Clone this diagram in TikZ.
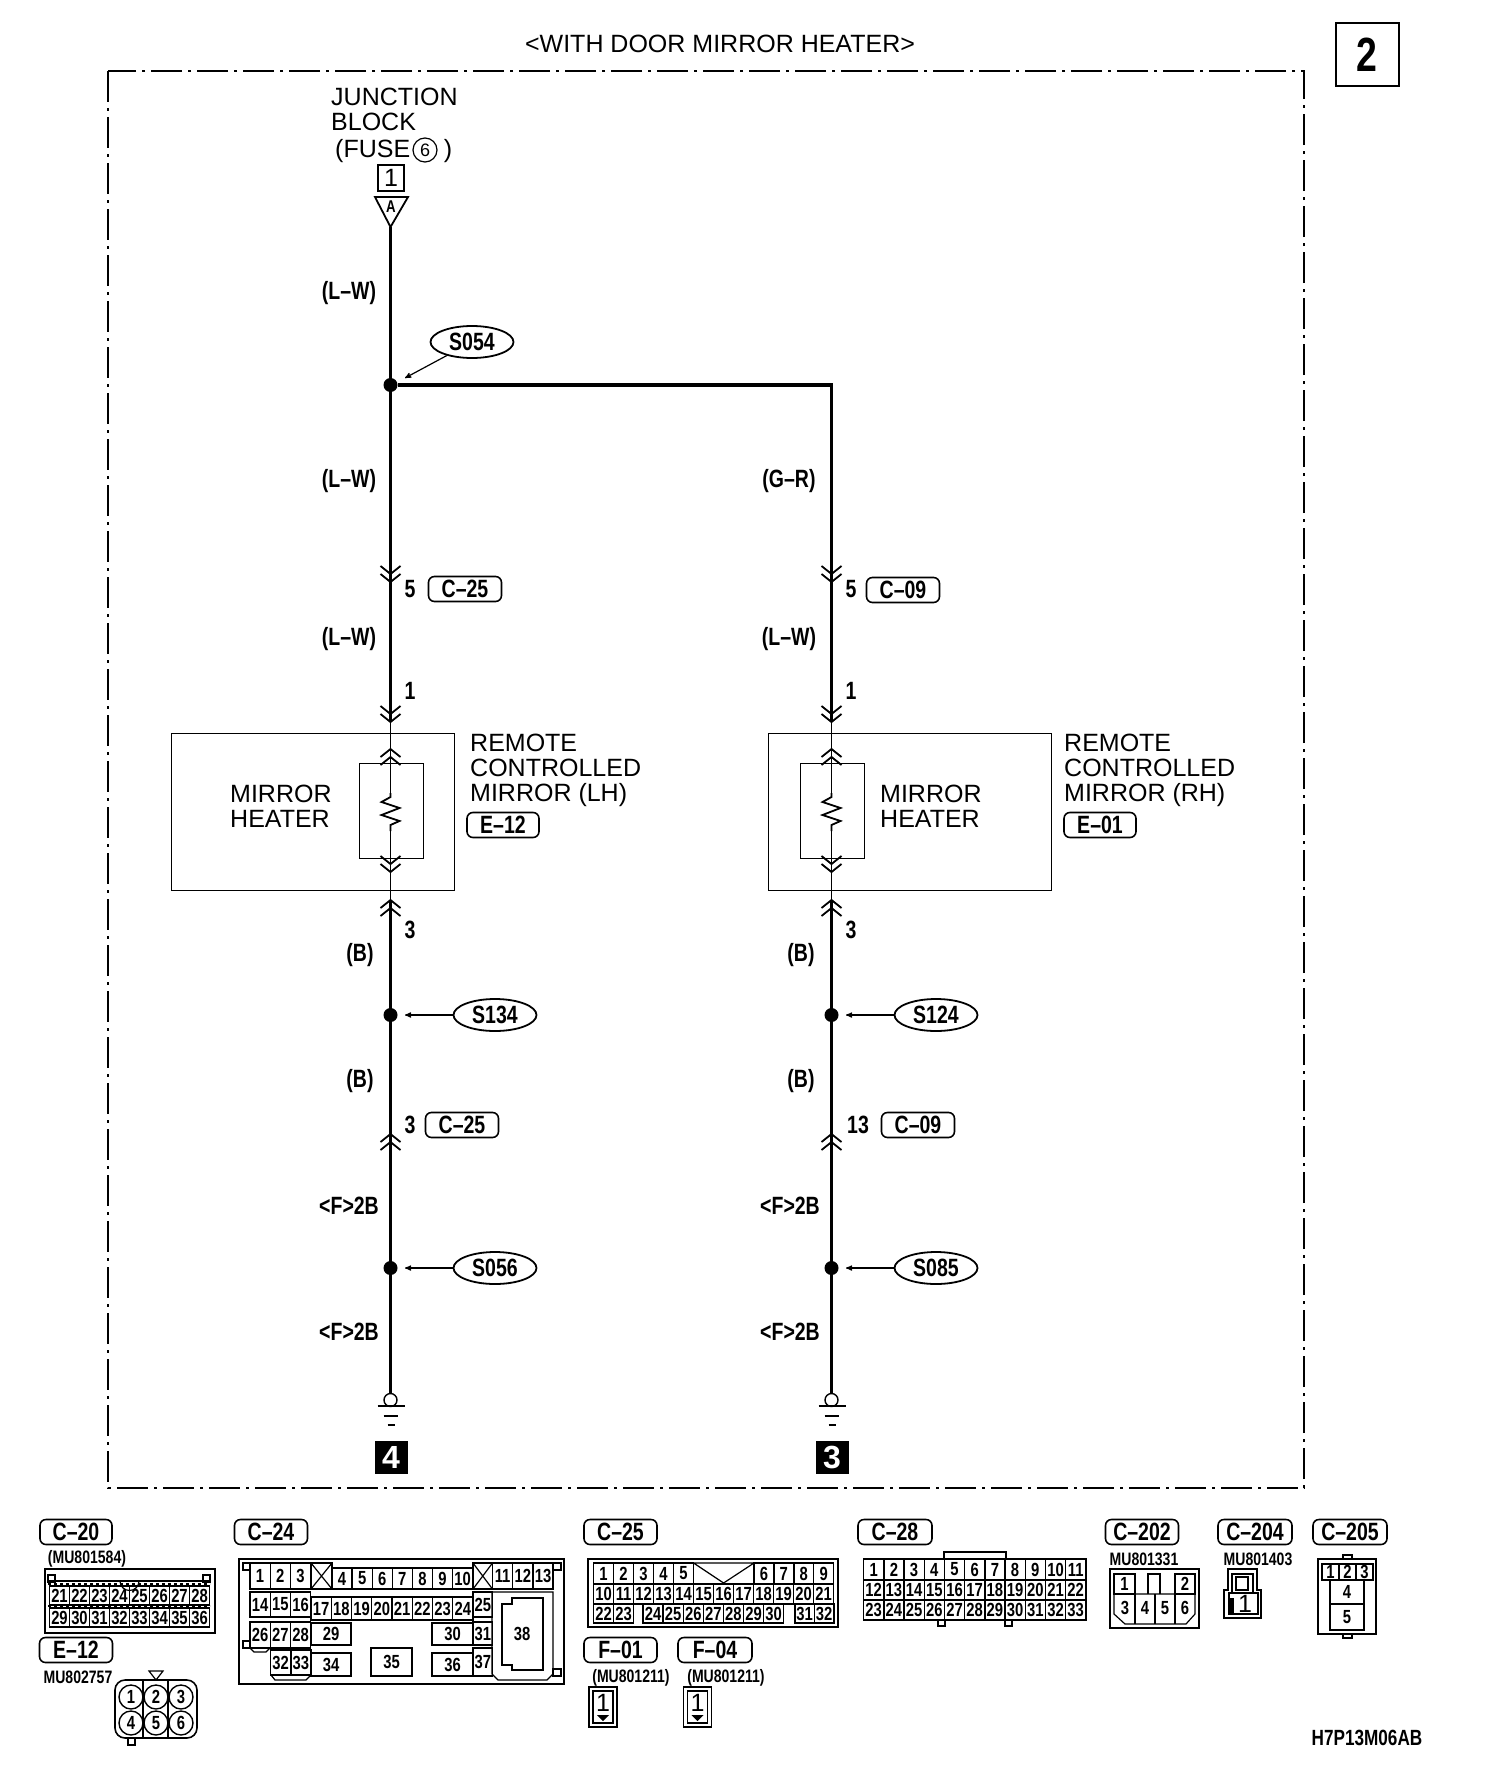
\documentclass[tikz,border=0pt]{standalone}
\usepackage{fontspec}
\setmainfont{Liberation Sans}
\newfontfamily\tagfamily[FakeStretch=0.78,Ligatures=TeX]{Liberation Sans Bold}
\usetikzlibrary{%
  shapes.geometric,% wg. ellipse
  arrows%
}
\newcommand{\bodysize}{\fontsize{25}{25}\selectfont}
\newcommand{\tagsize}{\tagfamily\fontsize{25}{25}\selectfont}
\newcommand{\pinsize}{\tagfamily\fontsize{19}{19}\selectfont}
\newcommand{\partsize}{\tagfamily\fontsize{18}{18}\selectfont}
% row of connector cells: prefix, x, y, width, height, numbers
\newcommand{\pinrow}[6]{%
  \foreach \n [count=\i from 0] in {#6}
    \node [pincell, minimum width=#4pt, minimum height=#5pt]
      (#1\n) at ({#2+\i*#4},#3) {\n};%
}
\tikzset{
  wire/.style={line width=3.4pt},
  feed/.style={line width=1.8pt},
  thinline/.style={line width=1.2pt},
  shell/.style={line width=1.6pt},
  framedash/.style={line width=1.2pt, dash pattern=on 31pt off 6pt on 3pt off 6pt},
  junc/.style={circle, fill=black, inner sep=0pt, minimum size=14pt},
  openjunc/.style={circle, draw, line width=1.4pt, fill=white, inner sep=0pt, minimum size=13pt},
  lab/.style={font=\bodysize, inner sep=0pt, align=left},
  wirelab/.style={font=\tagsize, inner sep=0pt},
  splice/.style={ellipse, draw, line width=1.8pt, font=\tagsize, inner sep=0pt,
    minimum width=83pt, minimum height=32pt},
  pill/.style={rectangle, rounded corners=6pt, draw, line width=1.6pt, font=\tagsize,
    inner sep=0pt, minimum width=#1pt, minimum height=25pt},
  pill/.default=72,
  partno/.style={font=\partsize, inner sep=0pt},
  pincell/.style={rectangle, draw, line width=1.4pt, anchor=north west, outer sep=0pt,
    inner sep=0pt, font=\pinsize},
  pinlab/.style={font=\pinsize, inner sep=0pt},
  chevrons/.pic={
    \draw [feed] (-10,-8) -- (0,0) -- (10,-8);
    \draw [feed] (-10,-16) -- (0,-8) -- (10,-16);
  },
  heater/.pic={
    \draw [feed] (0,-19) -- (0,-15) -- (-9,-10) -- (9,-4) -- (-9,3) -- (9,9) -- (0,13) -- (0,19);
  }
}
\begin{document}
\begin{tikzpicture}[x=1pt,y=-1pt,line join=miter]
  \useasboundingbox (0,0) rectangle (1504,1774);
  \draw [framedash] (108,71) rectangle (1304,1488);
  \node [lab] (title) at (720,44) {<WITH DOOR MIRROR HEATER>};
  \node [rectangle, draw, line width=2pt, minimum width=63pt, minimum height=63pt,
    inner sep=0pt, font=\tagfamily\fontsize{48}{48}\selectfont] (pagebox) at (1367,55) {2};

  % source
  \node [lab, anchor=west] (jblock) at (331,109) {JUNCTION\\BLOCK};
  \node [lab, anchor=west] (fuse) at (335,151) {(FUSE};
  \node [circle, draw, line width=1.2pt, inner sep=0pt, minimum size=24pt,
    font=\fontsize{18}{18}\selectfont] (fusenum) at (425,150) {6};
  \node [lab] (fuseend) at (448,151) {)};
  \node [rectangle, draw, line width=1.8pt, minimum width=26pt, minimum height=26pt,
    inner sep=0pt, font=\bodysize] (fusebox) at (391,178) {1};
  \coordinate (topA) at (390.5,227);
  \draw [line width=1.8pt] (375,197) -- (408,197) -- (topA) -- cycle;
  \node [font=\tagfamily\fontsize{17}{17}\selectfont, inner sep=0pt] (connA) at (391,207) {A};

  % splices
  \node [junc] (jS054) at (390.5,385) {};
  \coordinate (jtop) at (831.5,385);
  \node [splice] (S054) at (472,342) {S054};
  \node [junc] (jS134) at (390.5,1015) {};
  \node [splice] (S134) at (495,1015) {S134};
  \node [junc] (jS056) at (390.5,1268) {};
  \node [splice] (S056) at (495,1268) {S056};
  \node [junc] (jS124) at (831.5,1015) {};
  \node [splice] (S124) at (936,1015) {S124};
  \node [junc] (jS085) at (831.5,1268) {};
  \node [splice] (S085) at (936,1268) {S085};
  \coordinate (aS054) at (405,378);
  \coordinate (aS134) at (405,1015);
  \coordinate (aS056) at (405,1268);
  \coordinate (aS124) at (846,1015);
  \coordinate (aS085) at (846,1268);
  \draw [thinline,->,>=stealth'] (S054) -- (aS054);
  \foreach \s in {S134,S056,S124,S085}
    \draw [thinline,->,>=stealth'] (\s) -- (a\s);

  % mirrors
  \node [rectangle, draw, thinline, anchor=north west, minimum width=283pt, minimum height=157pt,
    inner sep=0pt] (mirrorL) at (171,733) {};
  \node [rectangle, draw, thinline, anchor=north west, minimum width=64pt, minimum height=95pt,
    inner sep=0pt] (elemL) at (359,763) {};
  \node [rectangle, draw, thinline, anchor=north west, minimum width=283pt, minimum height=157pt,
    inner sep=0pt] (mirrorR) at (768,733) {};
  \node [rectangle, draw, thinline, anchor=north west, minimum width=64pt, minimum height=95pt,
    inner sep=0pt] (elemR) at (800,763) {};
  \node [lab, anchor=west] (heatL) at (230,806) {MIRROR\\HEATER};
  \node [lab, anchor=west] (heatR) at (880,806) {MIRROR\\HEATER};
  \node [lab, anchor=west] (nameL) at (470,770) {REMOTE\\CONTROLLED\\MIRROR (LH)};
  \node [lab, anchor=west] (nameR) at (1064,770) {REMOTE\\CONTROLLED\\MIRROR (RH)};
  \node [pill] (tagE12) at (503,825) {E--12};
  \node [pill] (tagE01) at (1100,825) {E--01};

  % wires
  \foreach \x/\side in {390.5/L,831.5/R} {
    \coordinate (in\side) at (\x,722);
    \coordinate (out\side) at (\x,900);
    \coordinate (rtop\side) at (\x,793);
    \coordinate (rbot\side) at (\x,831);
    \coordinate (gnd\side) at (\x,1393);
    \draw [feed] (in\side) -- (rtop\side);
    \draw [feed] (rbot\side) -- (out\side);
    \draw [wire] (out\side) -- (gnd\side);
    \path (\x,812) pic {heater};
    \path (\x,582) pic {chevrons};
    \path (in\side) pic {chevrons};
    \path (\x,749) pic [yscale=-1] {chevrons};
    \path (\x,872) pic {chevrons};
    \path (out\side) pic [yscale=-1] {chevrons};
    \path (\x,1134) pic [yscale=-1] {chevrons};
    \node [openjunc] (open\side) at (\x,1400) {};
    \coordinate (eL\side) at (\x-13,1406);
    \coordinate (eR\side) at (\x+14,1406);
    \draw [thinline] (eL\side) -- (eR\side);
    \draw [line width=1.6pt] (\x-7,1416) -- (\x+7,1416);
    \draw [line width=1.6pt] (\x-3,1425) -- (\x+4,1425);
  }
  \draw [wire] (topA) -- (inL);
  \draw [wire] (jS054) -- (jtop) -- (inR);

  % wire labels
  \node [wirelab] (w1) at (349,293) {(L--W)};
  \node [wirelab] (w2) at (349,481) {(L--W)};
  \node [wirelab] (w3) at (789,481) {(G--R)};
  \node [wirelab] (w4) at (349,639) {(L--W)};
  \node [wirelab] (w5) at (789,639) {(L--W)};
  \foreach \x/\k in {360/a,801/b} {
    \node [wirelab] (bk1\k) at (\x,955) {(B)};
    \node [wirelab] (bk2\k) at (\x,1081) {(B)};
    \node [wirelab] (gd1\k) at (\x-11,1206) {<F>2B};
    \node [wirelab] (gd2\k) at (\x-11,1332) {<F>2B};
  }
  \node [wirelab] (p5a) at (410,589) {5};
  \node [pill=73] (tC25a) at (465,589) {C--25};
  \node [wirelab] (p5b) at (851,589) {5};
  \node [pill=73] (tC09a) at (903,590) {C--09};
  \node [wirelab] (p1a) at (410,691) {1};
  \node [wirelab] (p1b) at (851,691) {1};
  \node [wirelab] (p3a) at (410,930) {3};
  \node [wirelab] (p3b) at (851,930) {3};
  \node [wirelab] (p3c) at (410,1125) {3};
  \node [pill=73] (tC25b) at (462,1125) {C--25};
  \node [wirelab] (p13) at (858,1125) {13};
  \node [pill=73] (tC09b) at (918,1125) {C--09};

  % earth points
  \node [rectangle, fill=black, text=white, minimum size=33pt, inner sep=0pt,
    font=\bfseries\fontsize{32}{32}\selectfont] (earth4) at (391,1457) {4};
  \node [rectangle, fill=black, text=white, minimum size=33pt, inner sep=0pt,
    font=\bfseries\fontsize{32}{32}\selectfont] (earth3) at (832,1457) {3};

  % connector tags
  \node [pill] (hC20) at (76,1532) {C--20};
  \node [pill=73] (hC24) at (271,1532) {C--24};
  \node [pill=73] (hC25) at (620.5,1532) {C--25};
  \node [pill=74] (hC28) at (895,1532) {C--28};
  \node [pill=73] (hC202) at (1142,1532) {C--202};
  \node [pill=74] (hC204) at (1255,1532) {C--204};
  \node [pill=74] (hC205) at (1350,1532) {C--205};
  \node [pill=73] (hE12) at (76,1650) {E--12};
  \node [pill=73] (hF01) at (620.5,1650) {F--01};
  \node [pill=74] (hF04) at (715,1650) {F--04};
  \node [partno] (mC20) at (87,1559) {(MU801584)};
  \node [partno] (mE12) at (78,1677) {MU802757};
  \node [partno] (mF01) at (631,1678) {(MU801211)};
  \node [partno] (mF04) at (726,1678) {(MU801211)};
  \node [partno] (mC202) at (1144,1559) {MU801331};
  \node [partno] (mC204) at (1258,1559) {MU801403};
  \node [font=\tagfamily\fontsize{22}{22}\selectfont, inner sep=0pt] (code) at (1367,1738) {H7P13M06AB};

  % C-20
  \draw [shell] (45,1569) rectangle (215,1633);
  \draw [thinline] (48,1575) rectangle (55,1582) (203,1575) rectangle (210,1582);
  \draw [thinline] (120,1581) arc (180:0:9.5);
  \draw [line width=1.4pt] (48,1581) -- (210,1581);
  \draw [thinline,dashed] (48,1584) -- (210,1584) (48,1606) -- (210,1606);
  \pinrow{a}{49.5}{1586}{20}{19}{21,22,23,24,25,26,27,28}
  \pinrow{a}{49.5}{1608}{20}{19}{29,30,31,32,33,34,35,36}

  % C-24
  \draw [shell] (239,1559) rectangle (564,1684);
  \draw [thinline] (243,1563) rectangle (250,1570) (553,1563) rectangle (561,1570)
    (243,1641) rectangle (250,1648) (553,1669) rectangle (561,1676);
  \pinrow{b}{250}{1563}{20.2}{26}{1,2,3}
  \node [pincell, minimum width=21pt, minimum height=26pt] (bx1) at (311,1563) {};
  \draw [thinline] (bx1.north west) -- (bx1.south east) (bx1.north east) -- (bx1.south west);
  \pinrow{b}{332}{1568}{20.1}{21}{4,5,6,7,8,9,10}
  \node [pincell, minimum width=19.5pt, minimum height=26pt] (bx2) at (473,1563) {};
  \draw [thinline] (bx2.north west) -- (bx2.south east) (bx2.north east) -- (bx2.south west);
  \pinrow{b}{492.5}{1563}{20.2}{26}{11,12,13}
  \pinrow{b}{250}{1592}{20.2}{25}{14,15,16}
  \pinrow{b}{311}{1597}{20.25}{23}{17,18,19,20,21,22,23,24}
  \pinrow{b}{473}{1592}{19.5}{25}{25}
  \pinrow{b}{250}{1622}{20.2}{26}{26,27,28}
  \pinrow{b}{311}{1623}{40}{22}{29}
  \pinrow{b}{432}{1623}{41}{22}{30}
  \pinrow{b}{473}{1622}{19.5}{23}{31}
  \pinrow{b}{270.6}{1650}{20.2}{25}{32,33}
  \pinrow{b}{311}{1653}{40}{23}{34}
  \pinrow{b}{371}{1648}{41}{28}{35}
  \pinrow{b}{432}{1653}{41}{23}{36}
  \pinrow{b}{473}{1648}{19.5}{28}{37}
  \draw [thinline] (492,1592) -- (553,1592) -- (553,1674) -- (547,1680) -- (498,1680) -- (492,1674) -- cycle;
  \draw [shell] (502,1604) -- (512,1604) -- (512,1598) -- (543,1598) -- (543,1670) -- (512,1670)
    -- (512,1665) -- (502,1665) -- cycle;
  \node [pinlab] (b38) at (522,1634) {38};
  \draw [thinline] (250,1648) -- (254,1652) -- (266,1652) -- (270,1648)
    (271,1675) -- (275,1680) -- (306,1680) -- (311,1675);

  % C-25
  \draw [shell] (588,1559) rectangle (838,1627);
  \pinrow{c}{593.6}{1563}{20}{21}{1,2,3,4,5}
  \draw [thinline] (693.6,1563) -- (754,1563) (693.6,1563) -- (723.6,1583) -- (754,1563);
  \pinrow{c}{754}{1563}{19.9}{21}{6,7,8,9}
  \pinrow{c}{593.6}{1584}{20}{20}{10,11,12,13,14,15,16,17,18,19,20,21}
  \pinrow{c}{593.6}{1604}{20}{19}{22,23}
  \pinrow{c}{643}{1604}{20.1}{19}{24,25,26,27,28,29,30}
  \pinrow{c}{795}{1604}{19.4}{19}{31,32}

  % C-28
  \pinrow{d}{863.6}{1559}{20.2}{21}{1,2,3,4,5,6,7,8,9,10,11}
  \pinrow{d}{863.6}{1580}{20.2}{20}{12,13,14,15,16,17,18,19,20,21,22}
  \pinrow{d}{863.6}{1600}{20.2}{20}{23,24,25,26,27,28,29,30,31,32,33}
  \draw [thinline] (944,1559) -- (944,1552) -- (1006,1552) -- (1006,1559);
  \draw [thinline] (938,1620) rectangle (945,1626) (1005,1620) rectangle (1012,1626);

  % F-01, F-04
  \foreach \x/\k in {589/a,683.5/b} {
    \draw [shell] (\x,1687) rectangle (\x+28,1727);
    \draw [thinline] (\x+4,1691) rectangle (\x+24,1723);
    \node [font=\bodysize, inner sep=0pt] (fpin\k) at (\x+14,1703) {1};
    \fill (\x+8,1715) -- (\x+20,1715) -- (\x+14,1721) -- cycle;
  }

  % C-202
  \draw [shell] (1110,1569) rectangle (1199,1628);
  \pinrow{e}{1114}{1574}{21}{20}{1}
  \draw [thinline] (1148,1594) -- (1148,1574) -- (1160,1574) -- (1160,1594);
  \pinrow{e}{1175}{1574}{20}{20}{2}
  \draw [thinline] (1114,1594) -- (1195,1594) -- (1195,1614) -- (1186,1624) -- (1125,1624) -- (1114,1614) -- cycle;
  \draw [thinline] (1135,1594) -- (1135,1624) (1155,1594) -- (1155,1624) (1175,1594) -- (1175,1624);
  \node [pinlab] (e3) at (1125,1608) {3};
  \node [pinlab] (e4) at (1145,1608) {4};
  \node [pinlab] (e5) at (1165,1608) {5};
  \node [pinlab] (e6) at (1185,1608) {6};

  % C-204
  \draw [shell] (1224,1618) -- (1224,1590) -- (1228,1590) -- (1228,1569) -- (1257,1569)
    -- (1257,1590) -- (1261,1590) -- (1261,1618) -- cycle;
  \draw [thinline] (1232,1593) -- (1232,1574) -- (1253,1574) -- (1253,1593);
  \draw [thinline] (1236,1590) rectangle (1248,1577);
  \draw [thinline] (1229,1593) rectangle (1258,1614);
  \fill (1229,1598) rectangle (1234,1614);
  \node [font=\bodysize, inner sep=0pt] (g1) at (1245,1604) {1};

  % C-205
  \draw [shell] (1318,1559) rectangle (1376,1634);
  \draw [thinline] (1343,1559) -- (1343,1555) -- (1352,1555) -- (1352,1559)
    (1343,1634) -- (1343,1638) -- (1352,1638) -- (1352,1634);
  \pinrow{h}{1322}{1564}{17}{16}{1,2,3}
  \pinrow{h}{1330}{1580}{34}{24}{4}
  \pinrow{h}{1330}{1604}{34}{26}{5}

  % E-12
  \draw [shell, rounded corners=10pt] (115,1680) rectangle (197,1738);
  \draw [thinline] (143,1680) -- (143,1738) (168,1680) -- (168,1738);
  \draw [thinline] (149,1671) -- (163,1671) -- (156,1680) -- cycle;
  \draw [thinline] (128,1738) rectangle (135,1745);
  \foreach \n/\x/\y in {1/131/1697,2/156/1697,3/181/1697,4/131/1723,5/156/1723,6/181/1723}
    \node [circle, draw, line width=1.4pt, fill=white, minimum size=24pt, inner sep=0pt,
      font=\pinsize] (k\n) at (\x,\y) {\n};
\end{tikzpicture}
\end{document}
